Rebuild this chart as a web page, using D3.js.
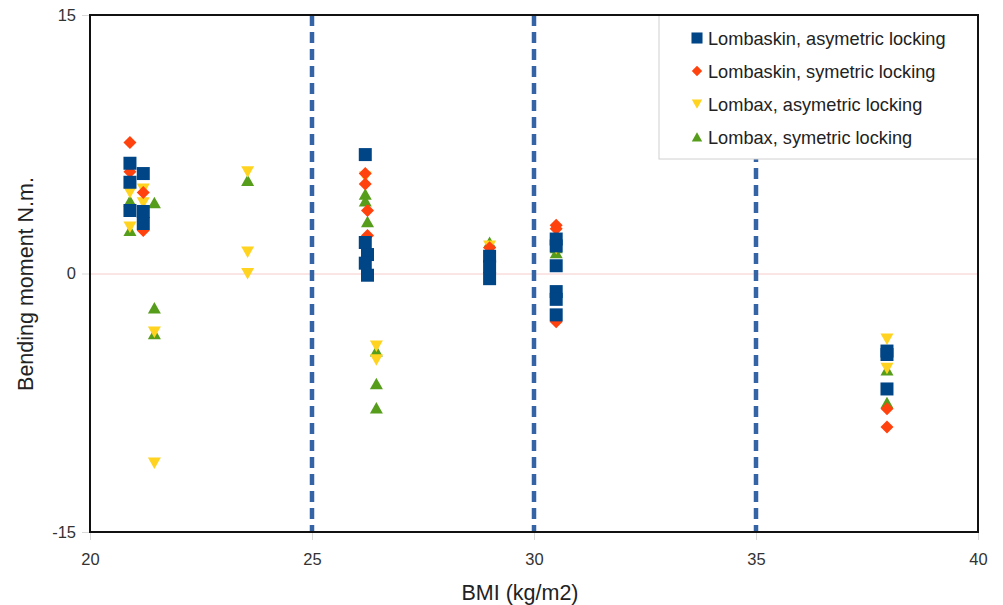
<!DOCTYPE html>
<html><head><meta charset="utf-8">
<script src="https://cdn.jsdelivr.net/npm/d3@7"></script>
<style>body{margin:0;background:#fff}svg{display:block;font-family:"Liberation Sans",Arial,sans-serif}</style>
</head><body><svg id="c" width="1003" height="605"></svg>
<script>
const seriesNames = ["Lombaskin, asymetric locking","Lombaskin, symetric locking","Lombax, asymetric locking","Lombax, symetric locking"];
const seriesColors = ["#004586","#ff420e","#ffd320","#579d1c"];
const seriesShapes = ["square","diamond","down","up"];
const lombaskinAsymX = [20.9,20.9,20.9,21.2,21.2,21.2,26.2,26.2,26.25,26.2,26.25,29.0,29.0,29.0,30.5,30.5,30.5,30.5,30.5,30.5,37.95,37.95,37.95];
const lombaskinAsymY = [6.4,5.3,3.65,5.8,3.6,2.9,6.9,1.8,1.1,0.6,-0.1,1.0,0.4,-0.3,2.0,1.6,0.45,-1.05,-1.5,-2.4,-4.5,-4.7,-6.7];
const lombaskinSymX = [20.9,20.9,21.2,21.2,26.2,26.2,26.25,26.25,29.0,30.5,30.5,30.5,37.95,37.95];
const lombaskinSymY = [7.6,5.9,4.7,2.5,5.8,5.2,3.65,2.2,1.5,2.8,2.6,-2.8,-7.85,-8.9];
const lombaxAsymX = [20.9,20.9,21.2,21.2,21.45,21.45,23.55,23.55,23.55,26.2,26.45,26.45,29.0,30.5,37.95,37.95];
const lombaxAsymY = [4.7,2.7,4.9,4.1,-3.4,-11.0,5.9,1.25,0.0,5.6,-4.2,-5.0,1.6,1.45,-3.8,-5.5];
const lombaxSymX = [20.9,20.9,21.45,21.45,21.45,23.55,26.2,26.2,26.25,26.45,26.45,26.45,29.0,30.5,30.5,37.95,37.95];
const lombaxSymY = [4.2,2.5,4.1,-2.0,-3.5,5.4,4.6,4.2,3.0,-4.5,-6.4,-7.8,1.8,1.2,1.5,-5.6,-7.5];
const xTicks = [20,25,30,35,40];
const yTicks = [-15,0,15];
const thresholds = [25,30,35];

const seriesX = [lombaskinAsymX,lombaskinSymX,lombaxAsymX,lombaxSymX];
const seriesY = [lombaskinAsymY,lombaskinSymY,lombaxAsymY,lombaxSymY];

const svg = d3.select("#c");
const L=90,R=978,T=15,B=532;
const x = d3.scaleLinear().domain([20,40]).range([L,R]);
const y = d3.scaleLinear().domain([-15,15]).range([B,T]);

// ticks
const gx = svg.append("g").attr("transform",`translate(0,${B})`)
  .call(d3.axisBottom(x).tickValues(xTicks).tickSize(8).tickPadding(13));
const gy = svg.append("g").attr("transform",`translate(${L},0)`)
  .call(d3.axisLeft(y).tickValues(yTicks).tickSize(8).tickPadding(6).tickFormat(d=>String(d)));
[gx,gy].forEach(g=>{
  g.select(".domain").remove();
  g.selectAll(".tick line").attr("stroke","#d9d9d9").attr("stroke-width",1);
  g.selectAll(".tick text").attr("font-size",16.5).attr("fill","#333").attr("font-family","Liberation Sans, Arial, sans-serif");
});

// zero line
svg.append("line").attr("x1",L).attr("x2",R).attr("y1",y(0)+0.5).attr("y2",y(0)+0.5)
  .attr("stroke","#f8caca").attr("stroke-width",1);

// threshold dashed lines
svg.selectAll(".thr").data(thresholds).join("line")
  .attr("x1",d=>x(d)).attr("x2",d=>x(d)).attr("y1",T).attr("y2",B)
  .attr("stroke","#3463a6").attr("stroke-width",4.5).attr("stroke-dasharray","11,6");

// markers
function shapePath(s,cx,cy){
  if(s==="square"){const h=6.5;return `M${cx-h},${cy-h}h${2*h}v${2*h}h${-2*h}Z`;}
  if(s==="diamond"){const h=6.5;return `M${cx},${cy-h}L${cx+h},${cy}L${cx},${cy+h}L${cx-h},${cy}Z`;}
  if(s==="down"){return `M${cx-6.5},${cy-5.5}L${cx+6.5},${cy-5.5}L${cx},${cy+6}Z`;}
  return `M${cx-6.5},${cy+5.5}L${cx+6.5},${cy+5.5}L${cx},${cy-6}Z`;
}
for(let i=3;i>=0;i--){
  const pts = seriesX[i].map((v,j)=>[v,seriesY[i][j]]);
  svg.append("g").selectAll("path").data(pts).join("path")
    .attr("d",d=>shapePath(seriesShapes[i],x(d[0]),y(d[1])))
    .attr("fill",seriesColors[i]);
}

// legend
const lg = svg.append("g");
lg.append("rect").attr("x",659).attr("y",T).attr("width",R-659).attr("height",144)
  .attr("fill","#fff").attr("stroke","#d0d0d0").attr("stroke-width",1);
seriesNames.forEach((n,i)=>{
  const cy = 38+i*33;
  lg.append("path").attr("d",shapePath(seriesShapes[i],697,cy)).attr("fill",seriesColors[i])
    .attr("transform", seriesShapes[i]==="square"?`translate(697,${cy}) scale(0.85) translate(-697,${-cy})`:`translate(697,${cy}) scale(0.8) translate(-697,${-cy})`);
  lg.append("text").attr("x",708).attr("y",cy+6.5).attr("font-size",18.2).attr("fill","#222").text(n);
});

// frame
svg.append("rect").attr("x",L).attr("y",T).attr("width",R-L).attr("height",B-T)
  .attr("fill","none").attr("stroke","#111").attr("stroke-width",2);

// axis titles
svg.append("text").attr("x",520).attr("y",600).attr("text-anchor","middle")
  .attr("font-size",21.5).attr("fill","#222").text("BMI (kg/m2)");
svg.append("text").attr("transform",`translate(33,284) rotate(-90)`).attr("text-anchor","middle")
  .attr("font-size",21.5).attr("fill","#222").text("Bending moment N.m.");
</script></body></html>
